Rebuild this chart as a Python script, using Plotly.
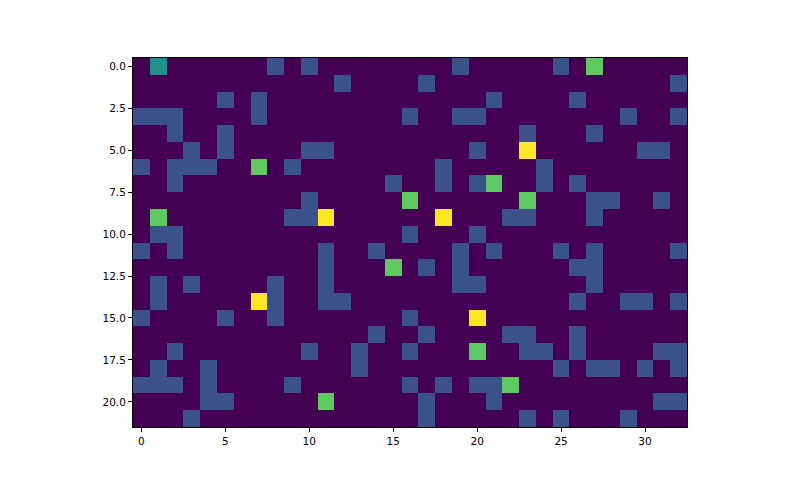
import plotly.graph_objects as go

# cell values per row (0-4), one digit per column, 33 columns x 22 rows
rows = [
    "02000 00010 10000 00001 00000 10300 000",
    "00000 00000 00100 00100 00000 00000 001",
    "00000 10100 00000 00000 01000 01000 000",
    "11100 00100 00000 01001 10000 00001 001",
    "00100 10000 00000 00000 00010 00100 000",
    "00010 10000 11000 00000 10040 00000 110",
    "10111 00301 00000 00010 00001 00000 000",
    "00100 00000 00000 10010 13001 01000 000",
    "00000 00000 10000 03000 00030 00110 010",
    "03000 00001 14000 00040 00110 00100 000",
    "01100 00000 00000 01000 10000 00000 000",
    "10100 00000 01001 00001 01000 10100 001",
    "00000 00000 01000 30101 00000 01100 000",
    "01010 00010 01000 00001 10000 00100 000",
    "01000 00410 01100 00000 00000 01001 101",
    "10000 10010 00000 01000 40000 00000 000",
    "00000 00000 00001 00100 00110 01000 000",
    "00100 00000 10010 01000 30011 01000 011",
    "01001 00000 00010 00000 00000 10110 101",
    "11101 00001 00000 01010 11300 00000 000",
    "00001 10000 03000 00100 01000 00000 011",
    "00010 00000 00000 00100 00010 10001 000",
]
z = [[int(ch) for ch in r.replace(" ", "")] for r in rows]

x_ticks = [0, 5, 10, 15, 20, 25, 30]
y_ticks = [0, 2.5, 5, 7.5, 10, 12.5, 15, 17.5, 20]
y_labels = ["0.0", "2.5", "5.0", "7.5", "10.0", "12.5", "15.0", "17.5", "20.0"]

fig = go.Figure(go.Heatmap(
    z=z,
    colorscale="Viridis",
    zmin=0,
    zmax=4,
    showscale=False,
    hoverongaps=False,
))

axis_style = dict(
    showgrid=False,
    zeroline=False,
    showline=True,
    linecolor="black",
    linewidth=1,
    mirror=True,
    ticks="outside",
    ticklen=4,
    tickcolor="black",
    tickfont=dict(family="DejaVu Sans", size=10.5, color="black"),
)

fig.update_xaxes(range=[-0.5, 32.5], tickvals=x_ticks, **axis_style)
fig.update_yaxes(range=[21.5, -0.5], tickvals=y_ticks, ticktext=y_labels, **axis_style)

# page body has an 8px margin, so the plot box is shifted back by that much
fig.update_layout(
    width=800,
    height=480,
    margin=dict(l=125, r=121, t=50, b=61),
    paper_bgcolor="white",
    plot_bgcolor="white",
)

fig.write_html("out.html")
